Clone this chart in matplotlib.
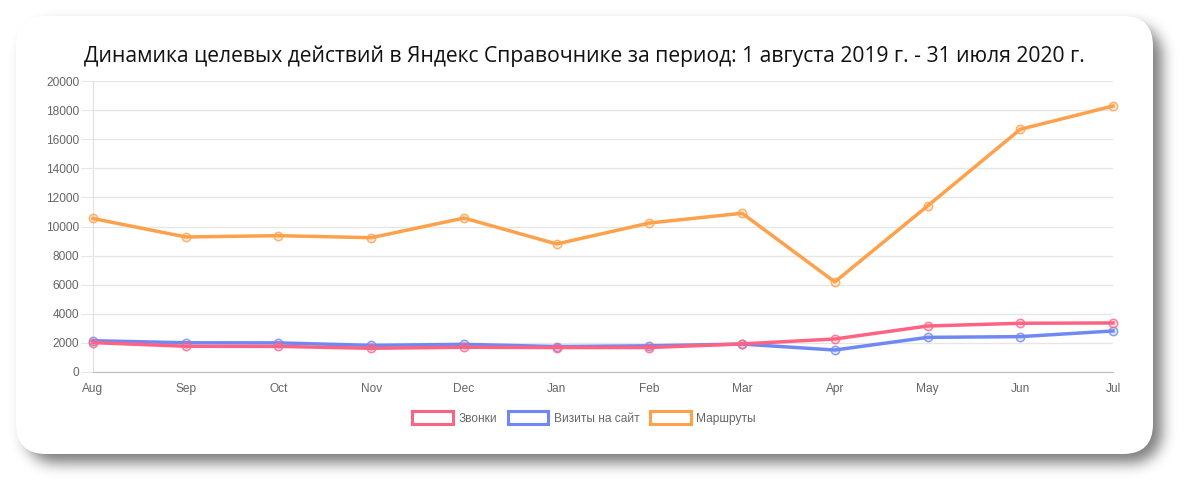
import matplotlib
matplotlib.use("Agg")
import matplotlib.pyplot as plt
import numpy as np
from matplotlib.patches import FancyBboxPatch, Patch

months = ["Aug", "Sep", "Oct", "Nov", "Dec", "Jan", "Feb", "Mar", "Apr", "May", "Jun", "Jul"]
calls = [2020, 1770, 1760, 1630, 1700, 1680, 1680, 1930, 2270, 3160, 3350, 3370]
visits = [2150, 2010, 2000, 1830, 1900, 1750, 1800, 1920, 1510, 2380, 2430, 2820]
routes = [10550, 9280, 9370, 9230, 10580, 8800, 10240, 10910, 6190, 11410, 16680, 18280]
series_names = ["Звонки", "Визиты на сайт", "Маршруты"]
title = "Динамика целевых действий в Яндекс Справочнике за период: 1 августа 2019 г. - 31 июля 2020 г."

colors = ["#ff6384", "#7088f4", "#ffa14a"]

W, H = 1193, 493
fig = plt.figure(figsize=(W / 100, H / 100), dpi=100)
fig.patch.set_facecolor("white")

bg = fig.add_axes([0, 0, 1, 1])
bg.set_xlim(0, W)
bg.set_ylim(H, 0)
bg.axis("off")

x0, y0, x1, y1 = 16, 16, 1153, 454
r = 30


def rounded_mask(ax0, ay0, ax1, ay1, rad):
    yy, xx = np.mgrid[0:H, 0:W] + 0.5
    dx = np.maximum(np.maximum(ax0 + rad - xx, xx - (ax1 - rad)), 0)
    dy = np.maximum(np.maximum(ay0 + rad - yy, yy - (ay1 - rad)), 0)
    return (np.hypot(dx, dy) <= rad).astype(float)


sigma = 7.0
k = np.arange(-25, 26)
kern = np.exp(-0.5 * (k / sigma) ** 2)
kern /= kern.sum()
m = rounded_mask(x0 + 9, y0 + 9, x1 + 9, y1 + 9, r)
m = np.apply_along_axis(lambda v: np.convolve(v, kern, mode="same"), 1, m)
m = np.apply_along_axis(lambda v: np.convolve(v, kern, mode="same"), 0, m)
shadow = np.zeros((H, W, 4))
shadow[..., 3] = m * 0.52
bg.imshow(shadow, extent=(0, W, H, 0), interpolation="nearest", zorder=0)
bg.set_xlim(0, W)
bg.set_ylim(H, 0)

bg.add_patch(FancyBboxPatch((x0, y0), x1 - x0, y1 - y0,
                            boxstyle=f"round,pad=0,rounding_size={r}",
                            facecolor="white", edgecolor="none", zorder=1))

bg.text(584, 56, title, ha="center", va="center", fontsize=15.2, color="#111111",
        family=["Open Sans", "DejaVu Sans"], zorder=2)

ax = fig.add_axes([93 / W, (H - 372) / H, (1113 - 93) / W, (372 - 81) / H])
ax.set_facecolor("none")
x = list(range(len(months)))
for i, (vals, c, name) in enumerate(zip([calls, visits, routes], colors, series_names)):
    z = 10 - 2 * i
    ax.plot(x, vals, color=c, lw=2.5, label=name, zorder=z, clip_on=False)
    ax.plot(x, vals, ls="none", marker="o", ms=6, mfc=c + "30", mec=c + "cc", mew=1.1,
            zorder=z + 1, clip_on=False)

ax.set_xlim(0, len(months) - 1)
ax.set_ylim(0, 20000)
ax.set_yticks(range(0, 20001, 2000))
ax.set_xticks(x)
ax.set_xticklabels(months)
ax.grid(axis="y", color="#e6e6e6", lw=1)
ax.set_axisbelow(True)
for s in ["top", "right"]:
    ax.spines[s].set_visible(False)
ax.spines["left"].set_color("#e0e0e0")
ax.spines["bottom"].set_color("#bdbdbd")
ax.tick_params(axis="y", length=9, color="#e6e6e6", labelsize=8.6, labelcolor="#666666", pad=1)
ax.tick_params(axis="x", length=0, labelsize=8.6, labelcolor="#666666", pad=8)
for lab in ax.get_xticklabels() + ax.get_yticklabels():
    lab.set_family(["Liberation Sans", "DejaVu Sans"])

handles = [Patch(facecolor=(1, 1, 1, 0.6), edgecolor=c, lw=2.2, label=n) for c, n in zip(colors, series_names)]
leg = fig.legend(handles=handles, loc="center", bbox_to_anchor=(584 / W, (H - 418) / H), ncol=3,
                 frameon=False, handlelength=3.4, handleheight=1.25, handletextpad=0.45, columnspacing=0.9,
                 prop={"family": ["Liberation Sans", "DejaVu Sans"], "size": 8.6})
for t in leg.get_texts():
    t.set_color("#666666")

fig.savefig("out.png", dpi=100)
